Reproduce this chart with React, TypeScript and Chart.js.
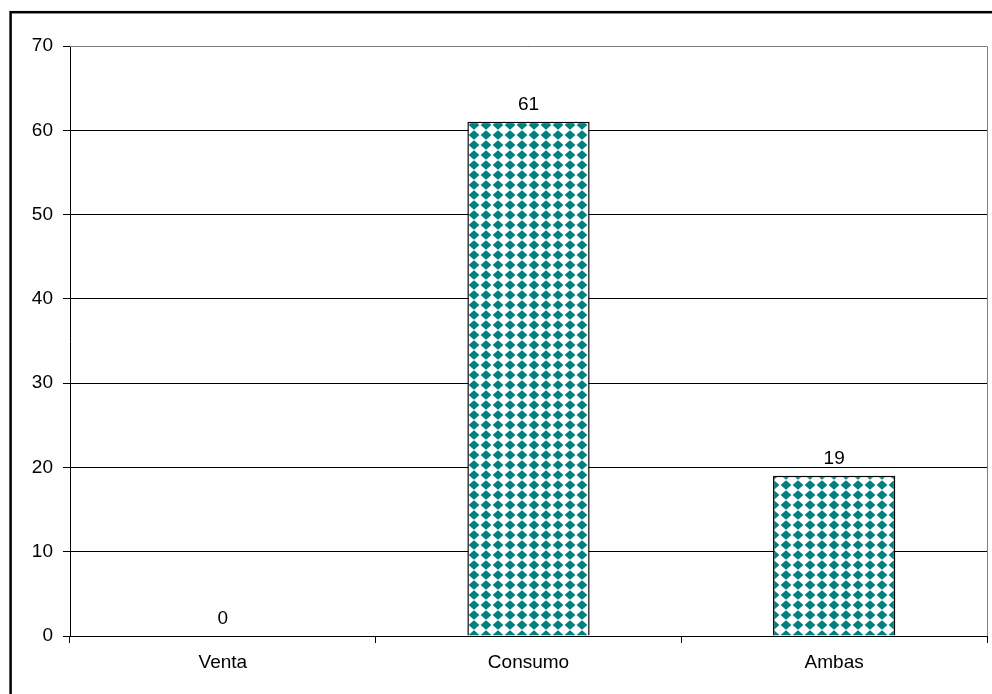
import React, { useEffect, useRef } from "react";
import { Chart, registerables } from "chart.js";

Chart.register(...registerables);

const categories = ["Venta", "Consumo", "Ambas"];
const values = [0, 61, 19];
const yTicks = [0, 10, 20, 30, 40, 50, 60, 70];

const FONT = "'Liberation Sans', Arial, sans-serif";

function makePattern(): CanvasPattern | string {
  const c = document.createElement("canvas");
  c.width = 12;
  c.height = 10;
  const g = c.getContext("2d");
  if (!g) return "#008080";
  g.fillStyle = "#ffffff";
  g.fillRect(0, 0, 12, 10);
  g.fillStyle = "#008080";
  g.beginPath();
  g.moveTo(6, 0.2);
  g.lineTo(11.4, 5);
  g.lineTo(6, 9.8);
  g.lineTo(0.6, 5);
  g.closePath();
  g.fill();
  const ctx = document.createElement("canvas").getContext("2d");
  return ctx ? (ctx.createPattern(c, "repeat") as CanvasPattern) : "#008080";
}

const framePlugin = {
  id: "frame",
  afterDraw(chart: any) {
    const { ctx, chartArea } = chart;
    ctx.save();
    ctx.strokeStyle = "#808080";
    ctx.lineWidth = 1;
    ctx.beginPath();
    ctx.moveTo(chartArea.left, chartArea.top + 0.5);
    ctx.lineTo(chartArea.right + 0.5, chartArea.top + 0.5);
    ctx.lineTo(chartArea.right + 0.5, chartArea.bottom);
    ctx.stroke();
    ctx.strokeStyle = "#000000";
    ctx.lineWidth = 2.5;
    ctx.strokeRect(10.6, 12.2, 2000, 2000);
    ctx.restore();
  },
};

const labelPlugin = {
  id: "barLabels",
  afterDatasetsDraw(chart: any) {
    const { ctx } = chart;
    const meta = chart.getDatasetMeta(0);
    ctx.save();
    ctx.font = `19px ${FONT}`;
    ctx.fillStyle = "#000";
    ctx.textAlign = "center";
    ctx.textBaseline = "alphabetic";
    meta.data.forEach((bar: any, i: number) => {
      ctx.fillText(String(values[i]), bar.x, bar.y - 12);
    });
    ctx.restore();
  },
};

export default function App() {
  const ref = useRef<HTMLCanvasElement>(null);
  useEffect(() => {
    if (!ref.current) return;
    const pattern = makePattern();
    const chart = new Chart(ref.current, {
      type: "bar",
      data: {
        labels: categories,
        datasets: [
          {
            data: values,
            backgroundColor: pattern as any,
            borderColor: "#000",
            borderWidth: 1.5,
            borderSkipped: "bottom",
            categoryPercentage: 1,
            barPercentage: 0.4,
          },
        ],
      },
      options: {
        animation: false,
        responsive: false,
        maintainAspectRatio: false,
        layout: { padding: { top: 46, right: 5, left: 0, bottom: 0 } },
        plugins: { legend: { display: false }, tooltip: { enabled: false } },
        scales: {
          x: {
            offset: true,
            grid: {
              offset: true,
              display: true,
              drawOnChartArea: false,
              drawTicks: true,
              tickLength: 7,
              color: "#000",
            },
            border: { display: true, color: "#000", width: 1 },
            ticks: {
              color: "#000",
              font: { family: FONT, size: 19 },
              padding: 8,
              maxRotation: 0,
            },
            afterFit(scale: any) {
              scale.height = 58;
            },
          },
          y: {
            min: 0,
            max: 70,
            afterBuildTicks(scale: any) {
              scale.ticks = yTicks.map((v) => ({ value: v }));
            },
            grid: {
              color: "#000",
              tickLength: 7,
              drawTicks: true,
            },
            border: { display: true, color: "#000", width: 1 },
            ticks: {
              color: "#000",
              font: { family: FONT, size: 19 },
              padding: 10,
            },
            afterFit(scale: any) {
              scale.width = 70;
            },
          },
        },
      },
      plugins: [labelPlugin, framePlugin],
    });
    return () => chart.destroy();
  }, []);
  return (
    <div style={{ position: "fixed", left: 0, top: 0, width: 992, height: 694, background: "#fff" }}>
      <canvas ref={ref} width={992} height={694} style={{ display: "block" }} />
    </div>
  );
}
